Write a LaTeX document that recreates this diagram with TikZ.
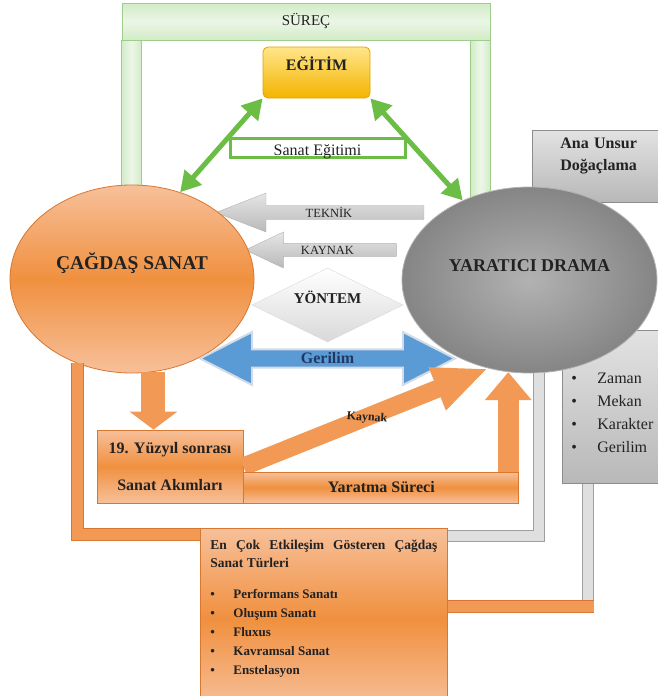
\documentclass[tikz,border=0pt]{standalone}
\usepackage{fontspec}
\setmainfont{Liberation Serif}
\usepackage{xcolor}
\usepackage{tikz}
\usetikzlibrary{arrows.meta,positioning,calc,shapes.geometric,shapes.arrows}
\definecolor{greenline}{HTML}{9CCD8A}
\definecolor{greenfill}{HTML}{D2EBC7}
\definecolor{greenarrow}{HTML}{6CBD45}
\definecolor{goldtop}{HTML}{FFE58A}
\definecolor{goldbot}{HTML}{F4B400}
\definecolor{goldline}{HTML}{E0A400}
\definecolor{orangetop}{HTML}{F7C09A}
\definecolor{orangemid}{HTML}{F0903F}
\definecolor{orangeline}{HTML}{D8772F}
\definecolor{orangearrow}{HTML}{F29A55}
\definecolor{grayline}{HTML}{8C8C8C}
\definecolor{graytop}{HTML}{E2E2E2}
\definecolor{graybot}{HTML}{B8B8B8}
\definecolor{dramatop}{HTML}{B2B2B2}
\definecolor{dramabot}{HTML}{858585}
\definecolor{bluefill}{HTML}{5B9BD5}
\definecolor{blueedge}{HTML}{D3DCE6}
\definecolor{navy}{HTML}{1F3864}
\definecolor{darktext}{HTML}{222222}
\tikzset{
  greenbox/.style={draw=greenline, line width=1pt, top color=greenfill, bottom color=greenfill,
                   middle color=greenfill!45},
  pillar/.style={draw=greenline, line width=1pt, left color=greenfill, right color=greenfill,
                 middle color=greenfill!40},
  goldbox/.style={draw=goldline, line width=.8pt, rounded corners=5pt, top color=goldtop,
                  bottom color=goldbot},
  orangebox/.style={draw=orangeline, line width=.8pt, top color=orangetop, bottom color=orangetop,
                    middle color=orangemid},
  graybox/.style={draw=grayline, line width=.8pt, top color=graytop, bottom color=graybot},
  blob/.style={ellipse, inner sep=0pt, line width=.8pt},
  grayarr/.style={single arrow, shape border rotate=180, single arrow head indent=0pt,
                  inner sep=0pt, draw=gray!60, top color=gray!20, bottom color=gray!55,
                  text=darktext, font=\fontsize{12.5}{15}\selectfont},
  greenarr/.style={{Triangle[length=20pt,width=22pt]}-{Triangle[length=20pt,width=22pt]},
                   line width=5pt, draw=greenarrow},
  bigarr/.style n args={3}{-{Triangle[length=#2,width=#3]}, line width=#1, draw=orangearrow},
  orangebar/.style={draw=orangeline, double=orangearrow, line width=1pt, double distance=11pt},
  graybar/.style={draw=gray!75, double=gray!25, line width=1pt, double distance=10pt},
  lbl/.style={font=\bfseries\fontsize{16}{19}\selectfont, text=darktext}
}
\begin{document}
\begin{tikzpicture}[x=1pt, y=-1pt]
  \useasboundingbox (0,0) rectangle (657,696);

  % frame of the process
  \node[greenbox, minimum width=368pt, minimum height=37pt, inner sep=0pt,
        font=\fontsize{15}{18}\selectfont, text=darktext] (surec) at (306,21.5) {SÜREÇ};
  \draw[pillar] (surec.south west) rectangle ++(20,190);
  \draw[pillar] (surec.south east) rectangle ++(-20,190);

  % boxes that sit behind the drama ellipse
  \node[graybox, anchor=north west, text width=90pt, inner xsep=28pt, inner ysep=8pt,
        text depth=45pt, font=\bfseries\fontsize{16}{22}\selectfont, text=darktext]
       (unsur) at (532,130) {Ana Unsur\\Doğaçlama};
  \node[graybox, anchor=north west, text width=85pt, inner xsep=9pt, minimum height=153pt,
        text depth=58pt, font=\fontsize{16}{23}\selectfont, text=darktext]
       (ozellik) at (562,330)
       {\makebox[26pt][l]{\textbullet}Zaman\\
        \makebox[26pt][l]{\textbullet}Mekan\\
        \makebox[26pt][l]{\textbullet}Karakter\\
        \makebox[26pt][l]{\textbullet}Gerilim};

  \node[grayarr, minimum height=208pt, minimum width=39pt, single arrow head extend=9.5pt,
        single arrow tip angle=42.6] (teknik) at (329,212.5) {TEKNİK};
  \node[grayarr, minimum height=151pt, minimum width=36pt, single arrow head extend=8pt,
        single arrow tip angle=50.7] (kaynak) at (327.5,250) {KAYNAK};
  \node[diamond, aspect=2, minimum width=151pt, minimum height=74pt, inner sep=0pt,
        draw=gray!30, top color=white, bottom color=gray!30, text height=10pt, text depth=13pt,
        font=\bfseries\fontsize{15}{18}\selectfont, text=darktext] (yontem) at (327.5,305) {YÖNTEM};

  \node[blob, minimum width=244pt, minimum height=188pt, draw=orangeline,
        top color=orangetop, bottom color=orangetop, middle color=orangemid,
        font=\bfseries\fontsize{19.5}{22}\selectfont, text=darktext,
        text height=10pt, text depth=29pt] (cagdas) at (132,279) {ÇAĞDAŞ SANAT};
  \node[blob, minimum width=255pt, minimum height=186pt, draw=gray!60,
        inner color=dramatop, outer color=dramabot,
        font=\bfseries\fontsize{18}{22}\selectfont, text=darktext,
        text height=10pt, text depth=28pt] (drama) at (529.5,280) {YARATICI DRAMA};

  \node[double arrow, minimum height=255pt, minimum width=53pt, double arrow head extend=12.5pt,
        double arrow tip angle=54, inner sep=0pt, fill=bluefill, draw=blueedge, line width=2pt,
        font=\bfseries\fontsize{16}{19}\selectfont, text=navy] (gerilim) at (327.5,358.5) {Gerilim};

  \node[goldbox, minimum width=107pt, minimum height=51pt, inner sep=0pt,
        font=\bfseries\fontsize{16}{19}\selectfont, text=darktext,
        text height=12pt, text depth=16.4pt] (egitim) at (316.5,72.5) {EĞİTİM};
  \node[draw=greenarrow, line width=3pt, fill=white, minimum width=175pt, minimum height=19pt,
        inner sep=0pt, font=\fontsize{16}{19}\selectfont, text=darktext,
        text height=16pt, text depth=0pt] (segitim) at (317.5,147.5) {Sanat Eğitimi};
  \draw[greenarr] (egitim.south west) -- (cagdas.61);
  \draw[greenarr] (egitim.south east) -- (drama.130);

  % art movements and the creative process
  \node[orangebox, minimum width=146pt, minimum height=73pt, align=center,
        font=\bfseries\fontsize{16}{37}\selectfont, text=darktext] (akim) at (170,466.5)
       {19. Yüzyıl sonrası\\Sanat Akımları};
  \draw[bigarr={18pt}{55pt}{42pt}] (akim.east) -- (drama.245);
  \node[orangebox, anchor=south west, minimum width=275pt, minimum height=31pt, inner sep=0pt,
        lbl] (yaratma) at (akim.south east) {Yaratma Süreci};
  \draw[bigarr={21pt}{28pt}{45pt}] (yaratma.north -| drama.257) -- (drama.257);
  \draw[bigarr={24pt}{18pt}{47pt}] (cagdas.283) -- (cagdas.283 |- akim.north);
  \node[lbl, font=\bfseries\fontsize{12}{14}\selectfont, rotate=-4] (kaynaklbl) at (367,418) {Kaynak};

  \node[orangebox, anchor=north west, text width=227pt, inner xsep=10pt, inner ysep=12pt,
        text depth=147pt, align=justify, font=\bfseries\fontsize{13.5}{18}\selectfont,
        text=darktext] (tur) at (200,528)
       {En Çok Etkileşim Gösteren Çağdaş Sanat Türleri\par\vspace{12pt}
        \fontsize{13}{19}\selectfont
        \makebox[23pt][l]{\textbullet}Performans Sanatı\par
        \makebox[23pt][l]{\textbullet}Oluşum Sanatı\par
        \makebox[23pt][l]{\textbullet}Fluxus\par
        \makebox[23pt][l]{\textbullet}Kavramsal Sanat\par
        \makebox[23pt][l]{\textbullet}Enstelasyon\par};
  \draw[orangebar] (cagdas.237) |- ([yshift=-6pt]tur.north west);
  \draw[graybar] (drama.276) |- ([yshift=-8pt]tur.north east);
  \coordinate (kose) at (587.5,606);
  \draw[graybar] (ozellik.south -| kose) -- (kose);
  \draw[orangebar] ([xshift=6pt]kose) -- (kose -| tur.east);
\end{tikzpicture}
\end{document}
